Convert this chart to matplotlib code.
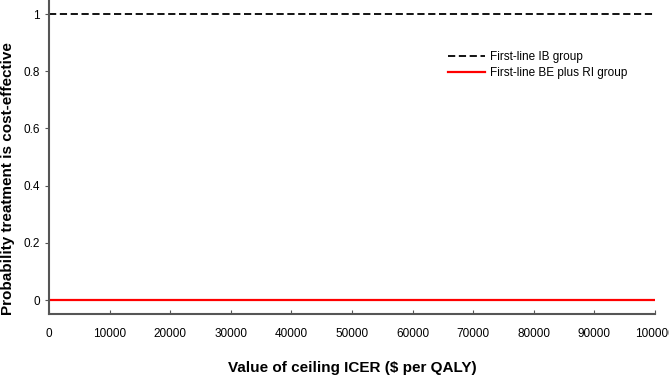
import numpy as np
import matplotlib.pyplot as plt

plt.rcParams['font.family'] = ['Liberation Sans', 'DejaVu Sans']

# willingness-to-pay thresholds and probability of being cost-effective
wtp = [0, 10000, 20000, 30000, 40000, 50000, 60000, 70000, 80000, 90000, 100000]
prob_ib = [1, 1, 1, 1, 1, 1, 1, 1, 1, 1, 1]
prob_be_ri = [0, 0, 0, 0, 0, 0, 0, 0, 0, 0, 0]

fig = plt.figure(figsize=(6.69, 3.78), dpi=100)
ax = fig.add_axes([0.0732, 0.169, 0.906, 0.831])

ax.plot(wtp, prob_ib, color='black', linestyle=(0, (4, 2)), linewidth=1.3,
        label='First-line IB group')
ax.plot(wtp, prob_be_ri, color='#ff0000', linewidth=1.6,
        label='First-line BE plus RI group')

ax.set_xlim(0, 100000)
ax.set_ylim(-0.049, 1.049)
ax.set_xticks(wtp)
ax.set_xticklabels([str(v) for v in wtp])
ax.set_yticks([0, 0.2, 0.4, 0.6, 0.8, 1])
ax.set_yticklabels(['0', '0.2', '0.4', '0.6', '0.8', '1'])

for s in ['top', 'right']:
    ax.spines[s].set_visible(False)
for s in ['left', 'bottom']:
    ax.spines[s].set_color('#555555')
    ax.spines[s].set_linewidth(1.5)

ax.tick_params(axis='x', direction='in', length=3, color='#555555', labelsize=8.5, pad=10)
ax.tick_params(axis='y', direction='out', length=3, color='#555555', labelsize=8.5)

ax.set_xlabel('Value of ceiling ICER ($ per QALY)', fontsize=11, fontweight='bold', labelpad=15)
ax.set_ylabel('Probability treatment is cost-effective', fontsize=11, fontweight='bold')
ax.yaxis.set_label_coords(-0.056, 0.433)

ax.legend(loc='upper left', bbox_to_anchor=(0.64, 0.87), frameon=False, fontsize=8.5,
          handlelength=3.2, handletextpad=0.4, labelspacing=0.3)

fig.savefig('out.png', dpi=100)
